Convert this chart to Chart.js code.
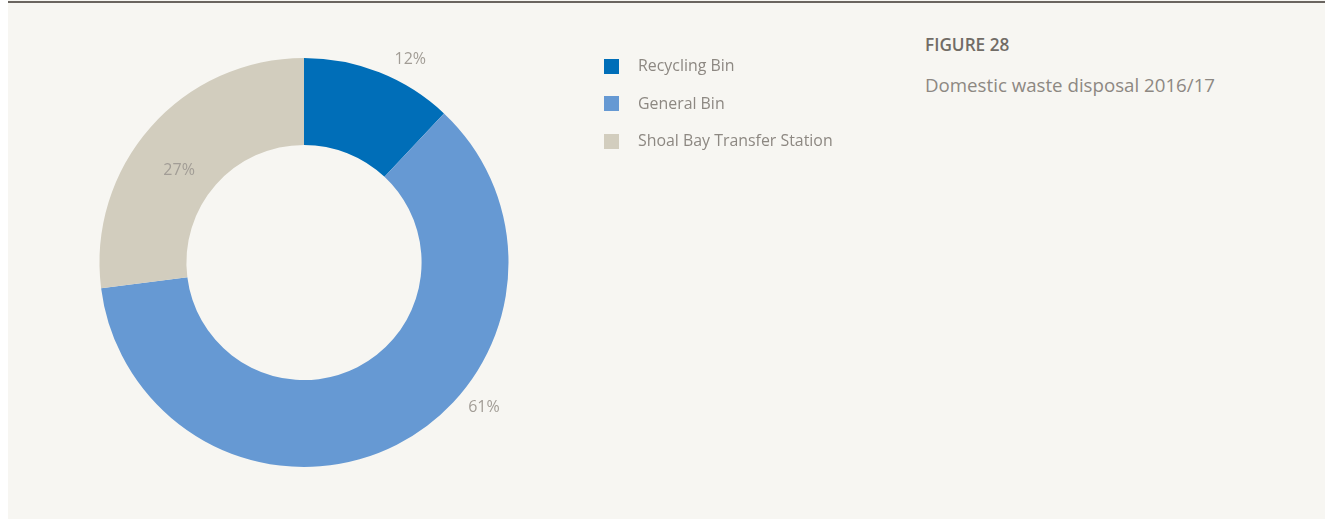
<!DOCTYPE html>
<html>
<head>
<meta charset="utf-8">
<script src="https://cdn.jsdelivr.net/npm/chart.js@4/dist/chart.umd.min.js"></script>
<style>
  html, body { margin: 0; padding: 0; }
  body { width: 1325px; height: 519px; background: #ffffff; position: relative; overflow: hidden; font-family: "Open Sans", "Noto Sans", sans-serif; }
  #panel { position: absolute; left: 8px; top: 0; width: 1317px; height: 519px; background: #f7f6f2; }
  #rule { position: absolute; left: 8px; top: 1px; width: 1317px; height: 2px; background: #6a6560; }
  #wrap { position: absolute; left: 0; top: 0; width: 608px; height: 519px; }
  #legend { position: absolute; left: 604px; top: 0; }
  .item { position: absolute; white-space: nowrap; font-size: 15.9px; color: #8d8882; }
  .box { position: absolute; width: 15px; height: 15px; }
  #fig { position: absolute; left: 925px; top: 33px; font-size: 17.2px; font-weight: 600; color: #716c66; }
  #sub { position: absolute; left: 925px; top: 72px; font-size: 18.7px; color: #8d8882; white-space: nowrap; }
</style>
</head>
<body>
<div id="panel"></div>
<div id="rule"></div>
<div id="wrap"><canvas id="c"></canvas></div>
<div id="legend"></div>
<div id="fig">FIGURE 28</div>
<div id="sub">Domestic waste disposal 2016/17</div>
<script>
const categories = ["Recycling Bin", "General Bin", "Shoal Bay Transfer Station"];
const shares = [12, 61, 27];
const colors = ["#006eb8", "#6699d3", "#d2cdbe"];
// where each percentage label sits: fraction along the arc, radius relative to outer radius
const labelAlong = [0.64, 0.39, 0.45];
const labelRadius = [1.12, 1.13, 0.76];

const labelPlugin = {
  id: 'pctLabels',
  afterDatasetsDraw(chart) {
    const ctx = chart.ctx;
    const meta = chart.getDatasetMeta(0);
    ctx.save();
    ctx.font = '16px "Open Sans", "Noto Sans", sans-serif';
    ctx.fillStyle = '#a29d96';
    ctx.textAlign = 'center';
    ctx.textBaseline = 'middle';
    meta.data.forEach((arc, i) => {
      const p = arc.getProps(['x','y','startAngle','endAngle','outerRadius'], true);
      const a = p.startAngle + (p.endAngle - p.startAngle) * labelAlong[i];
      const r = p.outerRadius * labelRadius[i];
      ctx.fillText(shares[i] + '%', p.x + Math.cos(a) * r, p.y + Math.sin(a) * r);
    });
    ctx.restore();
  }
};

const chart = new Chart(document.getElementById('c'), {
  type: 'doughnut',
  data: {
    labels: categories,
    datasets: [{ data: shares, backgroundColor: colors, borderWidth: 0, hoverOffset: 0 }]
  },
  options: {
    responsive: true,
    maintainAspectRatio: false,
    animation: false,
    cutout: '57.5%',
    layout: { padding: { left: 99.5, right: 99.5, top: 58, bottom: 52 } },
    plugins: { legend: { display: false }, tooltip: { enabled: false } }
  },
  plugins: [labelPlugin]
});

// legend built from the chart data
const leg = document.getElementById('legend');
const rowY = [66, 103.5, 141];
categories.forEach((name, i) => {
  const b = document.createElement('div');
  b.className = 'box';
  b.style.left = '0px';
  b.style.top = (rowY[i] - 7.5) + 'px';
  b.style.background = colors[i];
  leg.appendChild(b);
  const t = document.createElement('div');
  t.className = 'item';
  t.style.left = '34px';
  t.style.top = (rowY[i] - 12) + 'px';
  t.textContent = name;
  leg.appendChild(t);
});
</script>
</body>
</html>
